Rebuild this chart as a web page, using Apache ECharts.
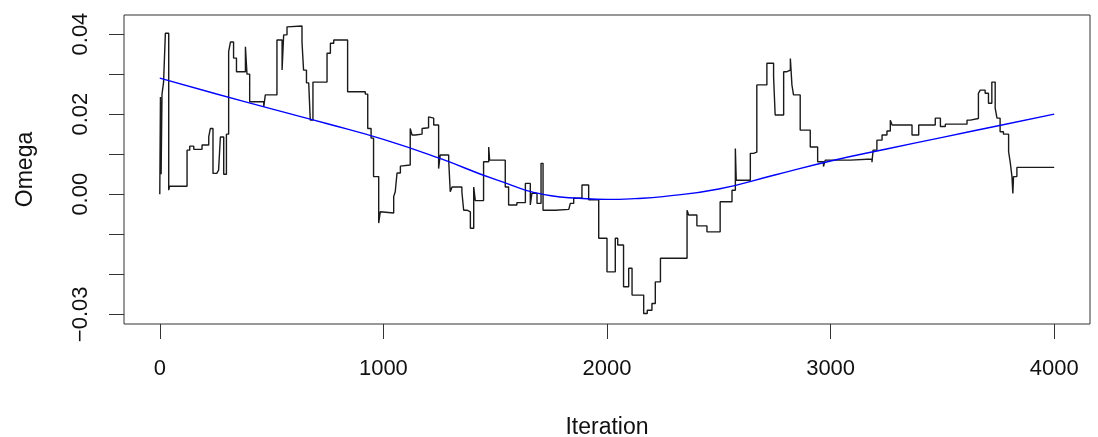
<!DOCTYPE html>
<html>
<head>
<meta charset="utf-8">
<title>Omega trace</title>
<script src="https://cdn.jsdelivr.net/npm/echarts@6/dist/echarts.min.js"></script>
<style>
  html, body { margin: 0; padding: 0; background: #fff; }
  #chart { width: 1098px; height: 437px; }
</style>
</head>
<body>
<div id="chart"></div>
<script>
// MCMC trace of Omega: iteration at which each accepted value starts
const traceIter = [
  0, 3, 6, 10, 17, 25, 40, 44, 122, 134, 152, 189, 219, 226, 238, 255, 263, 271, 286, 298,
  308, 316, 330, 343, 383, 390, 402, 465, 472, 524, 547, 554, 569, 576, 636, 643, 656, 666, 673, 685,
  748, 763, 778, 840, 919, 930, 945, 956, 979, 986, 990, 1046, 1053, 1061, 1076, 1083, 1120, 1128, 1143, 1173,
  1180, 1202, 1210, 1225, 1247, 1254, 1292, 1299, 1307, 1351, 1359, 1374, 1389, 1404, 1411, 1448, 1471, 1475, 1545, 1560,
  1597, 1635, 1657, 1664, 1687, 1705, 1714, 1769, 1829, 1836, 1851, 1888, 1918, 1963, 2000, 2037, 2048, 2074, 2097, 2112,
  2164, 2180, 2201, 2216, 2239, 2358, 2365, 2402, 2447, 2506, 2559, 2574, 2578, 2641, 2655, 2670, 2715, 2745, 2752, 2790,
  2805, 2820, 2827, 2834, 2864, 2909, 2942, 2968, 2976, 3088, 3185, 3190, 3207, 3230, 3252, 3267, 3275, 3364, 3394, 3468,
  3491, 3513, 3610, 3625, 3661, 3669, 3691, 3706, 3721, 3736, 3744, 3758, 3773, 3796, 3803, 3811, 3815, 3818, 3833, 4000
];
// value held from the matching iteration until the next one
const traceOmega = [
  0.0000, 0.0243, 0.0050, 0.0250, 0.0280, 0.0402, 0.0010, 0.0020, 0.0110, 0.0120, 0.0112, 0.0123, 0.0143, 0.0164, 0.0052, 0.0050, 0.0060, 0.0143, 0.0050, 0.0150,
  0.0356, 0.0380, 0.0340, 0.0306, 0.0368, 0.0300, 0.0231, 0.0218, 0.0248, 0.0385, 0.0310, 0.0398, 0.0418, 0.0420, 0.0380, 0.0310, 0.0278, 0.0275, 0.0185, 0.0280,
  0.0352, 0.0377, 0.0385, 0.0256, 0.0250, 0.0164, 0.0140, 0.0044, -0.0072, -0.0044, -0.0047, -0.0006, 0.0006, 0.0053, 0.0070, 0.0073, 0.0164, 0.0148, 0.0150, 0.0164,
  0.0166, 0.0193, 0.0190, 0.0173, 0.0064, 0.0098, 0.0085, 0.0006, 0.0018, 0.0006, -0.0040, -0.0044, -0.0085, 0.0018, -0.0016, 0.0081, 0.0118, 0.0085, 0.0018, -0.0027,
  -0.0021, 0.0027, -0.0027, 0.0002, -0.0023, 0.0077, -0.0040, -0.0038, -0.0034, -0.0023, -0.0010, 0.0023, -0.0014, -0.0110, -0.0194, -0.0110, -0.0127, -0.0231, -0.0185, -0.0252,
  -0.0298, -0.0290, -0.0273, -0.0219, -0.0160, -0.0040, -0.0052, -0.0079, -0.0094, -0.0019, 0.0010, 0.0114, 0.0035, 0.0102, 0.0105, 0.0273, 0.0327, 0.0293, 0.0198, 0.0306,
  0.0310, 0.0339, 0.0273, 0.0248, 0.0160, 0.0118, 0.0081, 0.0069, 0.0085, 0.0088, 0.0080, 0.0110, 0.0135, 0.0148, 0.0158, 0.0185, 0.0173, 0.0148, 0.0173, 0.0190,
  0.0169, 0.0175, 0.0185, 0.0189, 0.0252, 0.0260, 0.0252, 0.0227, 0.0280, 0.0215, 0.0190, 0.0156, 0.0150, 0.0106, 0.0081, 0.0044, 0.0002, 0.0044, 0.0067, 0.0067
];

// smoothed running trend
const smoothIter = [0, 250, 500, 750, 1000, 1250, 1500, 1750, 1875, 2000, 2125, 2250, 2500, 2750, 3000, 3250, 3500, 3750, 4000];
const smoothOmega = [0.0290, 0.0251, 0.0213, 0.0176, 0.0137, 0.0090, 0.0037, -0.0004, -0.0010, -0.0013, -0.0011, -0.0006, 0.0013, 0.0048, 0.0083, 0.0113, 0.0142, 0.0171, 0.0200];

// axis ticks and labelled values
const xTicks = [0, 1000, 2000, 3000, 4000];
const yTicks = [-0.03, -0.02, -0.01, 0.00, 0.01, 0.02, 0.03, 0.04];
const yLabelled = [-0.03, 0.00, 0.02, 0.04];

const FONT = '"Liberation Sans", Arial, sans-serif';
const INK = '#111';

const chart = echarts.init(document.getElementById('chart'), null, { renderer: 'canvas' });

chart.setOption({
  animation: false,
  backgroundColor: '#fff',
  grid: {
    left: 124, right: 8, top: 15, bottom: 113,
    outerBoundsMode: 'none',
    containLabel: false,
    show: true, borderColor: '#333', borderWidth: 1, backgroundColor: 'transparent'
  },
  xAxis: {
    type: 'value',
    min: -160, max: 4160,
    axisLine: { show: false, onZero: false },
    splitLine: { show: false },
    axisTick: { show: true, customValues: xTicks, length: 15, lineStyle: { color: '#333', width: 1 } },
    axisLabel: {
      customValues: xTicks, margin: 34,
      fontFamily: FONT, fontSize: 22, color: INK,
      formatter: v => String(v)
    },
    name: 'Iteration', nameLocation: 'middle', nameGap: 92,
    nameTextStyle: { fontFamily: FONT, fontSize: 23, color: INK }
  },
  yAxis: {
    type: 'value',
    min: -0.03242, max: 0.04476,
    axisLine: { show: false, onZero: false },
    splitLine: { show: false },
    axisTick: { show: true, customValues: yTicks, length: 15, lineStyle: { color: '#333', width: 1 } },
    axisLabel: {
      customValues: yLabelled, rotate: 90, margin: 32,
      fontFamily: FONT, fontSize: 22, color: INK,
      formatter: v => (v < 0 ? '\u2212' : '') + Math.abs(v).toFixed(2)
    },
    name: 'Omega', nameLocation: 'middle', nameGap: 87, nameRotate: 90,
    nameTextStyle: { fontFamily: FONT, fontSize: 23, color: INK }
  },
  series: [
    {
      type: 'line',
      step: 'end',
      showSymbol: false,
      data: traceIter.map((it, i) => [it, traceOmega[i]]),
      lineStyle: { color: '#1a1a1a', width: 1.4 },
      z: 2
    },
    {
      type: 'line',
      smooth: 0.5,
      showSymbol: false,
      data: smoothIter.map((it, i) => [it, smoothOmega[i]]),
      lineStyle: { color: '#0000ff', width: 1.4 },
      z: 3
    }
  ]
});
</script>
</body>
</html>
